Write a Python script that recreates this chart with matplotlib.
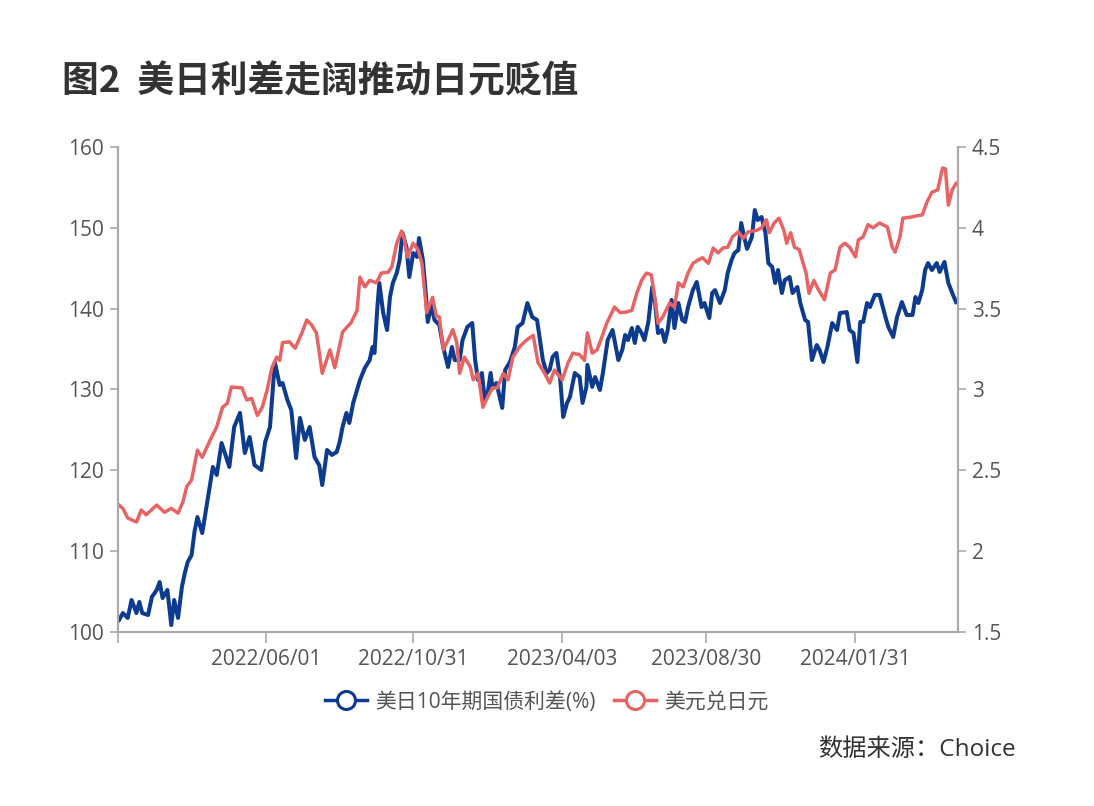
import pandas as pd
import matplotlib
matplotlib.use("Agg")
import matplotlib.pyplot as plt
import matplotlib.dates as mdates
from matplotlib.lines import Line2D

plt.rcParams['font.family'] = ['Open Sans', 'Noto Sans CJK SC', 'DejaVu Sans']

# 美元兑日元 (左轴)
usdjpy_dates = [
    "2021-12-31", "2022-01-04", "2022-01-09", "2022-01-18", "2022-01-23", "2022-01-28",
    "2022-02-08", "2022-02-16", "2022-02-23", "2022-03-02", "2022-03-07", "2022-03-11",
    "2022-03-16", "2022-03-22", "2022-03-27", "2022-04-04", "2022-04-11", "2022-04-17",
    "2022-04-22", "2022-04-26", "2022-05-07", "2022-05-12", "2022-05-17", "2022-05-23",
    "2022-05-28", "2022-06-02", "2022-06-07", "2022-06-12", "2022-06-15", "2022-06-18",
    "2022-06-25", "2022-07-01", "2022-07-08", "2022-07-13", "2022-07-18", "2022-07-23",
    "2022-07-29", "2022-08-06", "2022-08-11", "2022-08-19", "2022-08-28", "2022-09-03",
    "2022-09-06", "2022-09-11", "2022-09-16", "2022-09-23", "2022-09-28", "2022-10-05",
    "2022-10-09", "2022-10-14", "2022-10-19", "2022-10-22", "2022-10-25", "2022-10-31",
    "2022-11-05", "2022-11-09", "2022-11-14", "2022-11-20", "2022-11-24", "2022-11-27",
    "2022-12-01", "2022-12-06", "2022-12-11", "2022-12-15", "2022-12-18", "2022-12-23",
    "2022-12-29", "2023-01-01", "2023-01-06", "2023-01-11", "2023-01-16", "2023-01-21",
    "2023-01-26", "2023-02-01", "2023-02-06", "2023-02-11", "2023-02-18", "2023-02-25",
    "2023-03-04", "2023-03-09", "2023-03-14", "2023-03-21", "2023-03-26", "2023-04-03",
    "2023-04-09", "2023-04-14", "2023-04-21", "2023-04-26", "2023-04-29", "2023-05-04",
    "2023-05-09", "2023-05-14", "2023-05-19", "2023-05-27", "2023-06-02", "2023-06-09",
    "2023-06-14", "2023-06-19", "2023-06-24", "2023-06-29", "2023-07-04", "2023-07-08",
    "2023-07-11", "2023-07-16", "2023-07-23", "2023-07-28", "2023-08-01", "2023-08-06",
    "2023-08-11", "2023-08-16", "2023-08-21", "2023-08-26", "2023-09-01", "2023-09-06",
    "2023-09-11", "2023-09-16", "2023-09-21", "2023-09-26", "2023-10-02", "2023-10-07",
    "2023-10-12", "2023-10-21", "2023-10-26", "2023-10-31", "2023-11-03", "2023-11-08",
    "2023-11-13", "2023-11-18", "2023-11-21", "2023-11-25", "2023-11-29", "2023-12-04",
    "2023-12-07", "2023-12-11", "2023-12-14", "2023-12-19", "2023-12-24", "2023-12-30",
    "2024-01-05", "2024-01-10", "2024-01-15", "2024-01-20", "2024-01-25", "2024-01-31",
    "2024-02-03", "2024-02-08", "2024-02-13", "2024-02-18", "2024-02-25", "2024-03-04",
    "2024-03-09", "2024-03-12", "2024-03-17", "2024-03-20", "2024-03-27", "2024-04-04",
    "2024-04-09", "2024-04-14", "2024-04-19", "2024-04-25", "2024-04-30", "2024-05-03",
    "2024-05-06", "2024-05-10", "2024-05-14",
]
usdjpy = [
    115.7, 115.3, 114.1, 113.6, 115.1, 114.5,
    115.7, 114.8, 115.3, 114.7, 116.1, 118.0,
    118.8, 122.5, 121.6, 123.7, 125.4, 127.8,
    128.3, 130.3, 130.2, 128.7, 128.9, 126.8,
    127.8, 129.9, 132.7, 134.0, 133.6, 135.8,
    135.9, 135.1, 137.0, 138.6, 138.0, 137.0,
    132.0, 134.9, 132.7, 137.1, 138.3, 139.8,
    143.9, 142.7, 143.5, 143.2, 144.4, 144.5,
    145.2, 148.1, 149.6, 148.5, 146.4, 148.1,
    147.3, 145.6, 139.5, 141.4, 139.0, 139.0,
    134.9, 136.1, 137.4, 135.8, 132.0, 134.0,
    132.8, 131.2, 132.0, 127.8, 129.1, 130.2,
    130.2, 132.0, 131.2, 134.0, 135.3, 136.1,
    136.7, 133.3, 132.4, 130.8, 132.4, 131.2,
    133.3, 134.5, 134.3, 133.6, 137.0, 134.5,
    134.9, 136.5, 138.2, 140.2, 139.5, 139.6,
    139.8, 141.9, 143.5, 144.4, 144.2, 141.1,
    138.2, 139.0, 140.7, 140.2, 143.2, 142.7,
    144.4, 145.6, 146.0, 146.3, 145.6, 147.5,
    146.9, 147.5, 147.6, 148.9, 149.5, 148.7,
    149.5, 149.7, 150.0, 151.0, 149.4, 150.6,
    151.2, 149.7, 148.1, 149.4, 147.6, 147.3,
    146.0, 144.4, 141.9, 143.5, 142.3, 141.1,
    144.4, 144.8, 147.6, 148.1, 147.6, 146.4,
    148.5, 148.9, 150.4, 150.0, 150.6, 150.1,
    147.6, 147.0, 148.9, 151.2, 151.3, 151.5,
    151.6, 153.2, 154.4, 154.7, 157.4, 157.3,
    152.8, 154.7, 155.5,
]

# 美日10年期国债利差 % (右轴)
spread_dates = [
    "2021-12-31", "2022-01-04", "2022-01-09", "2022-01-13", "2022-01-18", "2022-01-21",
    "2022-01-24", "2022-01-30", "2022-02-03", "2022-02-08", "2022-02-11", "2022-02-14",
    "2022-02-19", "2022-02-23", "2022-02-26", "2022-03-02", "2022-03-06", "2022-03-09",
    "2022-03-12", "2022-03-16", "2022-03-19", "2022-03-22", "2022-03-27", "2022-04-02",
    "2022-04-07", "2022-04-11", "2022-04-16", "2022-04-19", "2022-04-24", "2022-04-29",
    "2022-05-05", "2022-05-10", "2022-05-15", "2022-05-20", "2022-05-27", "2022-05-31",
    "2022-06-05", "2022-06-10", "2022-06-15", "2022-06-18", "2022-06-23", "2022-06-27",
    "2022-07-02", "2022-07-06", "2022-07-11", "2022-07-16", "2022-07-21", "2022-07-26",
    "2022-07-29", "2022-08-03", "2022-08-08", "2022-08-13", "2022-08-16", "2022-08-19",
    "2022-08-23", "2022-08-26", "2022-08-30", "2022-09-03", "2022-09-06", "2022-09-11",
    "2022-09-16", "2022-09-19", "2022-09-21", "2022-09-24", "2022-09-26", "2022-09-30",
    "2022-10-04", "2022-10-07", "2022-10-10", "2022-10-14", "2022-10-17", "2022-10-20",
    "2022-10-24", "2022-10-27", "2022-10-31", "2022-11-04", "2022-11-06", "2022-11-10",
    "2022-11-13", "2022-11-15", "2022-11-19", "2022-11-22", "2022-11-27", "2022-12-01",
    "2022-12-06", "2022-12-10", "2022-12-13", "2022-12-18", "2022-12-21", "2022-12-26",
    "2022-12-31", "2023-01-03", "2023-01-06", "2023-01-10", "2023-01-13", "2023-01-16",
    "2023-01-19", "2023-01-21", "2023-01-25", "2023-01-31", "2023-02-03", "2023-02-08",
    "2023-02-13", "2023-02-16", "2023-02-21", "2023-02-26", "2023-03-03", "2023-03-08",
    "2023-03-11", "2023-03-14", "2023-03-18", "2023-03-21", "2023-03-24", "2023-03-28",
    "2023-04-01", "2023-04-04", "2023-04-08", "2023-04-11", "2023-04-16", "2023-04-21",
    "2023-04-24", "2023-04-28", "2023-04-29", "2023-05-04", "2023-05-07", "2023-05-12",
    "2023-05-15", "2023-05-20", "2023-05-25", "2023-05-31", "2023-06-04", "2023-06-07",
    "2023-06-10", "2023-06-14", "2023-06-17", "2023-06-20", "2023-06-24", "2023-06-27",
    "2023-07-01", "2023-07-05", "2023-07-08", "2023-07-11", "2023-07-15", "2023-07-18",
    "2023-07-21", "2023-07-25", "2023-07-28", "2023-08-01", "2023-08-05", "2023-08-08",
    "2023-08-11", "2023-08-16", "2023-08-20", "2023-08-25", "2023-08-28", "2023-09-02",
    "2023-09-05", "2023-09-08", "2023-09-13", "2023-09-18", "2023-09-21", "2023-09-25",
    "2023-09-28", "2023-10-02", "2023-10-05", "2023-10-08", "2023-10-11", "2023-10-16",
    "2023-10-19", "2023-10-22", "2023-10-26", "2023-10-30", "2023-11-02", "2023-11-06",
    "2023-11-09", "2023-11-12", "2023-11-16", "2023-11-19", "2023-11-24", "2023-11-27",
    "2023-12-02", "2023-12-05", "2023-12-10", "2023-12-13", "2023-12-17", "2023-12-22",
    "2023-12-25", "2023-12-29", "2024-01-02", "2024-01-07", "2024-01-12", "2024-01-15",
    "2024-01-22", "2024-01-25", "2024-01-29", "2024-02-02", "2024-02-05", "2024-02-08",
    "2024-02-12", "2024-02-15", "2024-02-20", "2024-02-25", "2024-03-02", "2024-03-05",
    "2024-03-10", "2024-03-14", "2024-03-19", "2024-03-24", "2024-03-30", "2024-04-02",
    "2024-04-05", "2024-04-09", "2024-04-12", "2024-04-15", "2024-04-19", "2024-04-24",
    "2024-04-27", "2024-05-02", "2024-05-06", "2024-05-10", "2024-05-14",
]
spread = [
    1.574, 1.617, 1.587, 1.698, 1.617, 1.686,
    1.617, 1.605, 1.717, 1.760, 1.809, 1.710,
    1.760, 1.543, 1.698, 1.587, 1.779, 1.865,
    1.933, 1.976, 2.119, 2.211, 2.112, 2.335,
    2.521, 2.471, 2.669, 2.614, 2.521, 2.768,
    2.855, 2.607, 2.706, 2.533, 2.502, 2.675,
    2.768, 3.170, 3.028, 3.040, 2.935, 2.873,
    2.576, 2.824, 2.688, 2.768, 2.583, 2.530,
    2.409, 2.626, 2.595, 2.614, 2.675, 2.768,
    2.855, 2.793, 2.917, 2.997, 3.059, 3.133,
    3.182, 3.263, 3.226, 3.510, 3.659, 3.473,
    3.368, 3.572, 3.659, 3.721, 3.801, 3.968,
    3.881, 3.696, 3.844, 3.820, 3.937, 3.801,
    3.597, 3.418, 3.523, 3.430, 3.399, 3.263,
    3.139, 3.263, 3.182, 3.182, 3.306, 3.387,
    3.411, 3.182, 3.059, 3.102, 2.935, 2.978,
    3.102, 3.009, 3.040, 2.886, 3.121, 3.170,
    3.263, 3.387, 3.411, 3.535, 3.448, 3.430,
    3.306, 3.182, 3.102, 3.121, 3.201, 3.226,
    3.059, 2.830, 2.917, 2.954, 3.102, 3.077,
    2.917, 3.016, 3.152, 3.016, 3.077, 2.997,
    3.102, 3.306, 3.368, 3.182, 3.244, 3.337,
    3.306, 3.380, 3.288, 3.387, 3.349, 3.306,
    3.418, 3.634, 3.535, 3.349, 3.368, 3.294,
    3.368, 3.554, 3.380, 3.535, 3.430, 3.418,
    3.510, 3.615, 3.665, 3.510, 3.535, 3.442,
    3.597, 3.615, 3.535, 3.615, 3.721, 3.801,
    3.844, 3.863, 4.030, 3.943, 3.870, 3.943,
    4.110, 4.048, 4.067, 3.968, 3.782, 3.758,
    3.659, 3.739, 3.597, 3.677, 3.696, 3.597,
    3.634, 3.535, 3.430, 3.418, 3.182, 3.275,
    3.244, 3.170, 3.263, 3.411, 3.368, 3.473,
    3.479, 3.368, 3.349, 3.170, 3.418, 3.418,
    3.535, 3.510, 3.585, 3.585, 3.448, 3.387,
    3.325, 3.448, 3.541, 3.461, 3.461, 3.572,
    3.535, 3.615, 3.739, 3.782, 3.739, 3.782,
    3.727, 3.789, 3.659, 3.597, 3.541,
]

tick_dates = ["2022-06-01", "2022-10-31", "2023-04-03", "2023-08-30", "2024-01-31"]

blue = "#0D3B8F"
red = "#E86464"
axis_grey = "#AAAAAA"
text_grey = "#555555"

fig = plt.figure(figsize=(10.94, 8.06), dpi=100)
ax1 = fig.add_axes([0.1079, 0.2159, 0.7678, 0.6017])
ax2 = ax1.twinx()

ax1.plot(pd.to_datetime(usdjpy_dates), usdjpy, color=red, lw=2.5, solid_joinstyle="round")
ax2.plot(pd.to_datetime(spread_dates), spread, color=blue, lw=2.9, solid_joinstyle="round")

# le rouge passe au-dessus
ax1.set_zorder(ax2.get_zorder() + 1)
ax1.patch.set_visible(False)

ax1.set_xlim(pd.Timestamp("2021-12-30"), pd.Timestamp("2024-05-16"))
ax1.set_ylim(100, 160)
ax1.set_yticks(range(100, 161, 10))
ax2.set_ylim(1.5, 4.5)
ax2.set_yticks([1.5, 2, 2.5, 3, 3.5, 4, 4.5])
ax2.set_yticklabels(["1.5", "2", "2.5", "3", "3.5", "4", "4.5"])

ax1.set_xticks(pd.to_datetime(tick_dates))
ax1.xaxis.set_major_formatter(mdates.DateFormatter("%Y/%m/%d"))
ax1.set_xticks([pd.Timestamp("2021-12-30")], minor=True)

for ax in (ax1, ax2):
    ax.spines["top"].set_visible(False)
    for side in ("left", "right", "bottom"):
        ax.spines[side].set_color(axis_grey)
        ax.spines[side].set_linewidth(1.5)

ax1.tick_params(axis="y", length=6, width=1.2, color=axis_grey, labelcolor=text_grey, labelsize=15, pad=4)
ax2.tick_params(axis="y", length=6, width=1.2, color=axis_grey, labelcolor=text_grey, labelsize=15, pad=4)
ax1.tick_params(axis="x", which="both", length=8, width=1.2, color=axis_grey, labelcolor=text_grey,
                labelsize=15, pad=4)

fig.text(0.057, 0.899, "图2  美日利差走阔推动日元贬值", fontsize=26.5, fontweight="bold",
         color="#333333", va="center", ha="left", family=["Noto Sans CJK SC", "DejaVu Sans"])

handles = [
    Line2D([], [], color=blue, lw=2.5, marker="o", markersize=13, markerfacecolor="white",
           markeredgewidth=2.2, markeredgecolor=blue),
    Line2D([], [], color=red, lw=2.5, marker="o", markersize=13, markerfacecolor="white",
           markeredgewidth=2.2, markeredgecolor=red),
]
leg = fig.legend(handles, ["美日10年期国债利差(%)", "美元兑日元"], loc="center",
                 bbox_to_anchor=(0.5, 0.129), ncol=2, frameon=False, fontsize=15,
                 handlelength=2.0, handletextpad=0.4, columnspacing=0.9)
for t in leg.get_texts():
    t.set_color(text_grey)

fig.text(0.928, 0.069, "数据来源：Choice", fontsize=17.5, color="#333333", ha="right", va="center")

fig.savefig("out.png", dpi=100)
